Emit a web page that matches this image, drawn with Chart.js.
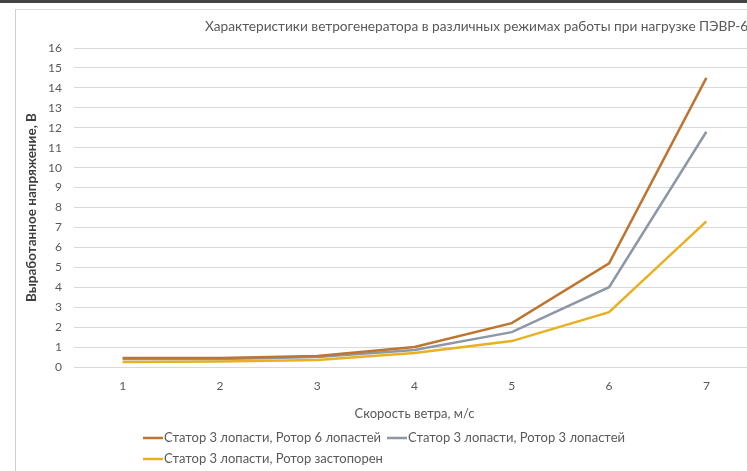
<!DOCTYPE html>
<html>
<head>
<meta charset="utf-8">
<script src="https://cdn.jsdelivr.net/npm/chart.js@4"></script>
<style>
  html, body { margin: 0; padding: 0; width: 747px; height: 471px; overflow: hidden; background: #fff; }
  #topbar { position: absolute; left: 0; top: 0; width: 747px; height: 3px; background: #434343; }
  #frame { position: absolute; left: 15px; top: 9px; width: 732px; height: 462px; border-left: 1px solid #cfcfcf; border-top: 1px solid #dcdcdc; }
  #wrap { position: absolute; left: 0; top: 0; width: 747px; height: 471px; overflow: hidden; }
  #inner { width: 780px; height: 471px; }
</style>
</head>
<body>
<div id="topbar"></div>
<div id="frame"></div>
<div id="wrap"><div id="inner"><canvas id="chart"></canvas></div></div>
<script>
// данные
const speeds = ['1', '2', '3', '4', '5', '6', '7'];
const rotor6 = [0.45, 0.45, 0.55, 1.0, 2.2, 5.2, 14.5];
const rotor3 = [0.4, 0.4, 0.5, 0.85, 1.75, 4.0, 11.8];
const rotorLocked = [0.25, 0.28, 0.35, 0.7, 1.3, 2.75, 7.3];
const seriesNames = [
    'Статор 3 лопасти, Ротор 6 лопастей',
    'Статор 3 лопасти, Ротор 3 лопастей',
    'Статор 3 лопасти, Ротор застопорен'
];
const yTicks = [0, 1, 2, 3, 4, 5, 6, 7, 8, 9, 10, 11, 12, 13, 14, 15, 16];
const colors = ['#bd7530', '#8e97a6', '#e9b022'];

const chartTitle = 'Характеристики ветрогенератора в различных режимах работы при нагрузке ПЭВР-6';
const fontFamily = 'Lato, "Open Sans", sans-serif';

// заголовок и легенда рисуются вручную, как в Excel
const extras = {
    id: 'extras',
    afterDraw(chart) {
        const c = chart.ctx;
        c.save();
        c.fillStyle = '#595959';
        c.font = '13.7px ' + fontFamily;
        c.textBaseline = 'middle';
        c.textAlign = 'left';
        c.fillText(chartTitle, 205, 27);

        const rows = [[143, 438, 0], [387, 438, 1], [143, 459, 2]];
        c.font = '13px ' + fontFamily;
        rows.forEach(([x, y, i]) => {
            c.strokeStyle = colors[i];
            c.lineWidth = 2.5;
            c.beginPath();
            c.moveTo(x, y);
            c.lineTo(x + 20, y);
            c.stroke();
            c.fillStyle = '#595959';
            c.fillText(seriesNames[i], x + 21, y);
        });
        c.restore();
    }
};

new Chart(document.getElementById('chart').getContext('2d'), {
    type: 'line',
    data: {
        labels: speeds,
        datasets: [rotor6, rotor3, rotorLocked].map((d, i) => ({
            label: seriesNames[i],
            data: d,
            borderColor: colors[i],
            backgroundColor: colors[i],
            borderWidth: 2.5,
            pointRadius: 0,
            tension: 0,
            fill: false
        }))
    },
    options: {
        responsive: true,
        maintainAspectRatio: false,
        animation: false,
        layout: { padding: { top: 48, right: 25, bottom: 49, left: 0 } },
        plugins: {
            legend: { display: false },
            title: { display: false },
            tooltip: { enabled: false }
        },
        scales: {
            x: {
                offset: true,
                grid: { display: false, drawTicks: false },
                border: { display: true, color: '#d9d9d9' },
                ticks: { color: '#595959', font: { family: fontFamily, size: 12 }, padding: 12, maxRotation: 0 },
                title: {
                    display: true,
                    text: 'Скорость ветра, м/с',
                    color: '#595959',
                    font: { family: fontFamily, size: 13 },
                    padding: { top: 0, bottom: 0 }
                },
                afterFit(scale) { scale.height = 55; }
            },
            y: {
                min: 0,
                max: 16,
                afterBuildTicks(scale) { scale.ticks = yTicks.map(v => ({ value: v })); },
                grid: { color: '#d9d9d9', drawTicks: false },
                border: { display: false },
                ticks: { color: '#595959', font: { family: fontFamily, size: 12 }, padding: 12 },
                title: {
                    display: true,
                    text: 'Выработанное напряжение, В',
                    color: '#404040',
                    font: { family: fontFamily, size: 13.5, weight: 'bold' },
                    padding: { top: 24, bottom: 0 }
                },
                afterFit(scale) { scale.width = 74; }
            }
        }
    },
    plugins: [extras]
});
</script>
</body>
</html>
